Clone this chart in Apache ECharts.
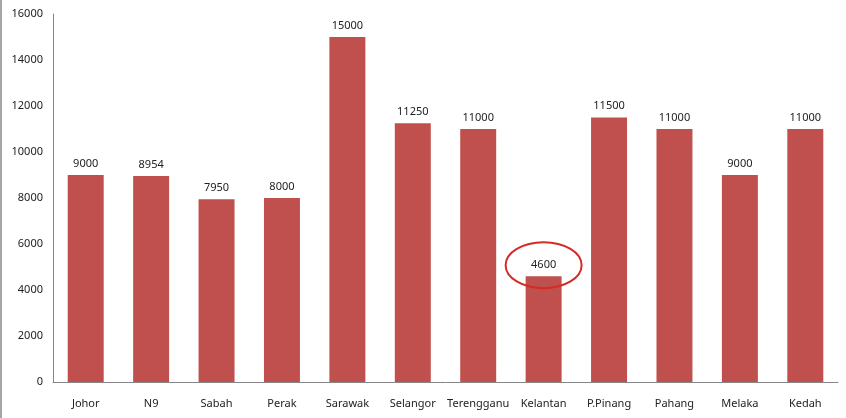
<!DOCTYPE html>
<html>
<head>
<meta charset="utf-8">
<script src="https://cdn.jsdelivr.net/npm/echarts@6/dist/echarts.min.js"></script>
<style>
  html, body { margin: 0; padding: 0; background: #fff; }
  #chart { width: 846px; height: 418px; }
</style>
</head>
<body>
<div id="chart"></div>
<script>
// 州名
const states = ['Johor', 'N9', 'Sabah', 'Perak', 'Sarawak', 'Selangor', 'Terengganu', 'Kelantan', 'P.Pinang', 'Pahang', 'Melaka', 'Kedah']
// 数值
const values = [9000, 8954, 7950, 8000, 15000, 11250, 11000, 4600, 11500, 11000, 9000, 11000]
// 需要圈出的类目
const circled = 'Kelantan'

const font = 'Noto Sans'
const myChart = echarts.init(document.querySelector('#chart'))
const option = {
  animation: false,
  grid: { left: 53, right: 8, top: 14, bottom: 36 },
  xAxis: {
    type: 'category',
    data: states,
    axisLine: { lineStyle: { color: '#868686' } },
    axisTick: { show: false },
    axisLabel: { interval: 0, color: '#222', fontFamily: font, fontSize: 11, margin: 16 },
  },
  yAxis: {
    type: 'value',
    min: 0,
    max: 16000,
    interval: 2000,
    axisLine: { show: true, lineStyle: { color: '#868686' } },
    axisTick: { show: false },
    splitLine: { show: false },
    axisLabel: { color: '#222', fontFamily: font, fontSize: 11, margin: 10, formatter: v => String(v) },
  },
  series: [
    {
      type: 'bar',
      data: values,
      barWidth: '55%',
      itemStyle: { color: '#C0504D' },
      label: {
        show: true,
        position: 'top',
        distance: 6,
        color: '#222',
        fontFamily: font,
        fontSize: 11,
      },
    },
  ],
}
myChart.setOption(option)

// 红色椭圆圈出标签，左侧灰色边框
const idx = states.indexOf(circled)
const p = myChart.convertToPixel({ seriesIndex: 0 }, [idx, values[idx]])
myChart.setOption({
  graphic: [
    {
      type: 'ellipse',
      shape: { cx: p[0], cy: p[1] - 11, rx: 38, ry: 23 },
      style: { fill: 'none', stroke: '#D42A2A', lineWidth: 2 },
      z: 100,
    },
    {
      type: 'line',
      shape: { x1: 1, y1: 0, x2: 1, y2: 418 },
      style: { stroke: '#888', lineWidth: 1.5 },
    },
  ],
})
</script>
</body>
</html>
